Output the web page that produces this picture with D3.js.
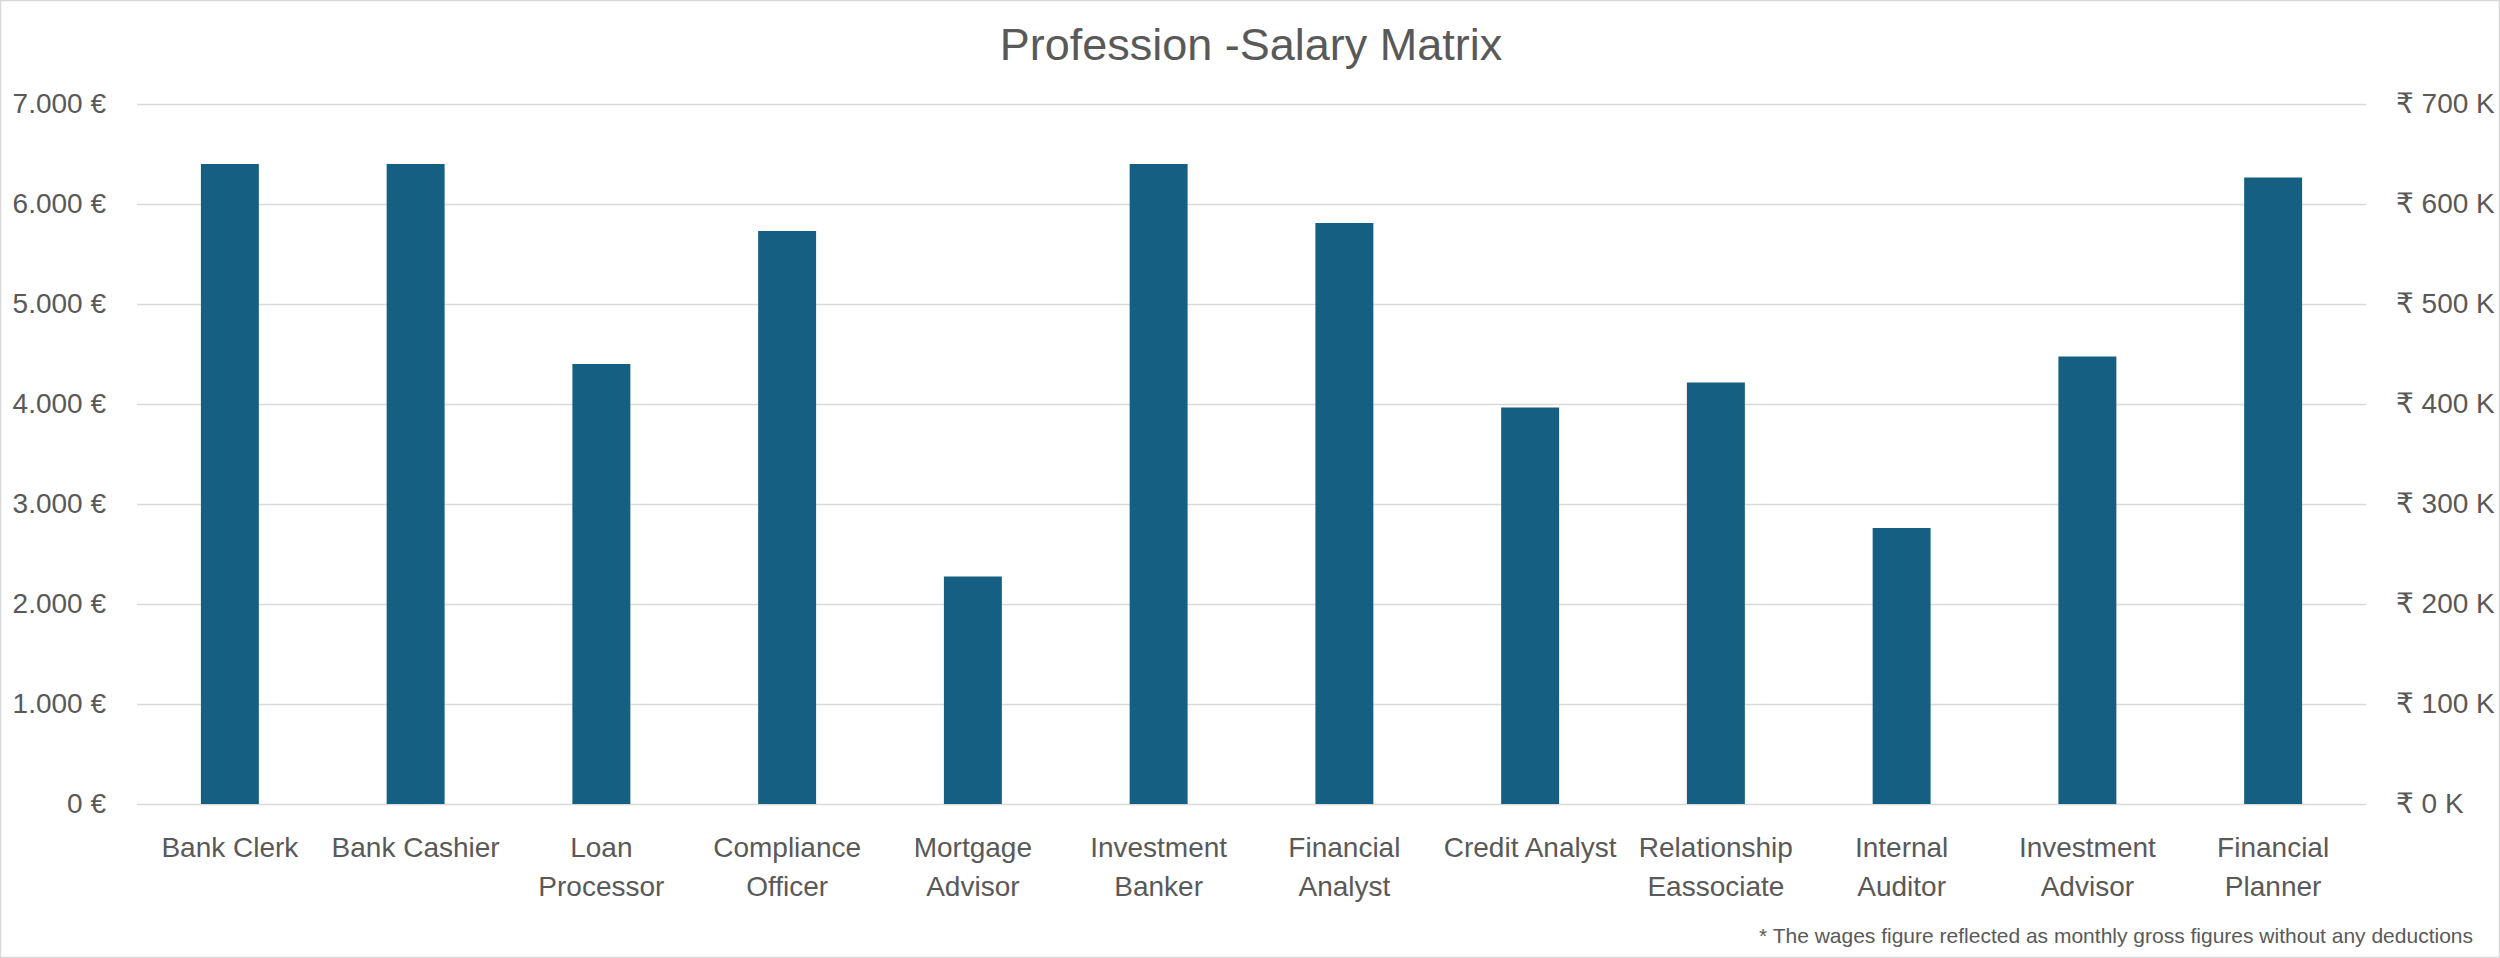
<!DOCTYPE html>
<html>
<head>
<meta charset="utf-8">
<script src="https://cdn.jsdelivr.net/npm/d3@7/dist/d3.min.js"></script>
<style>
  html, body { margin: 0; padding: 0; background: #fff; }
  svg { display: block; }
  text { font-family: "Liberation Sans", "DejaVu Sans", sans-serif; fill: #595959; }
</style>
</head>
<body>
<svg id="chart" width="2500" height="958"></svg>
<script>
const categories = ["Bank Clerk", "Bank Cashier", "Loan Processor", "Compliance Officer", "Mortgage Advisor",
  "Investment Banker", "Financial Analyst", "Credit Analyst", "Relationship Eassociate", "Internal Auditor",
  "Investment Advisor", "Financial Planner"];
const salaryEUR = [6400, 6400, 4400, 5730, 2275, 6400, 5810, 3965, 4215, 2760, 4475, 6265];
const leftTicks = [0, 1000, 2000, 3000, 4000, 5000, 6000, 7000];
const rightTicks = [0, 100000, 200000, 300000, 400000, 500000, 600000, 700000];
const title = "Profession -Salary Matrix";
const footnote = "* The wages figure reflected as monthly gross figures without any deductions";

const W = 2500, H = 958;
const plot = { left: 137, right: 2366, top: 104, bottom: 804 };
const svg = d3.select("#chart");

svg.append("rect").attr("x", 0.5).attr("y", 0.5).attr("width", W - 1).attr("height", H - 1)
  .attr("fill", "#fff").attr("stroke", "#d9d9d9").attr("stroke-width", 1.5);

const x = d3.scaleBand().domain(categories).range([plot.left, plot.right])
  .paddingInner(0.688).paddingOuter(0.344);
const y = d3.scaleLinear().domain([0, 7000]).range([plot.bottom, plot.top]);
const y2 = d3.scaleLinear().domain([0, 700000]).range([plot.bottom, plot.top]);

const loc = d3.formatLocale({ decimal: ",", thousands: ".", grouping: [3], currency: ["", " €"] });
const fmtL = v => loc.format(",")(v) + " €";
const fmtR = v => "₹ " + (v / 1000) + " K";

// gridlines
svg.append("g").selectAll("line").data(leftTicks).join("line")
  .attr("x1", plot.left).attr("x2", plot.right)
  .attr("y1", d => Math.round(y(d)) + 0.5).attr("y2", d => Math.round(y(d)) + 0.5)
  .attr("stroke", "#d9d9d9").attr("stroke-width", 1.5);

// left axis
const gL = svg.append("g").attr("transform", `translate(106,0)`)
  .call(d3.axisLeft(y).tickValues(leftTicks).tickFormat(fmtL).tickSize(0).tickPadding(0));
gL.select(".domain").remove();
gL.selectAll("text").style("font-size", "28px").attr("fill", "#595959");

// right axis
const gR = svg.append("g").attr("transform", `translate(2396,0)`)
  .call(d3.axisRight(y2).tickValues(rightTicks).tickFormat(fmtR).tickSize(0).tickPadding(0));
gR.select(".domain").remove();
gR.selectAll("text").style("font-size", "28px").attr("fill", "#595959");

// bars
svg.append("g").selectAll("rect").data(categories).join("rect")
  .attr("x", d => x(d)).attr("width", x.bandwidth())
  .attr("y", (d, i) => y(salaryEUR[i]))
  .attr("height", (d, i) => y(0) - y(salaryEUR[i]))
  .attr("fill", "#156082");

// x labels with wrapping
const gX = svg.append("g");
const step = x.step();
categories.forEach(c => {
  const cx = x(c) + x.bandwidth() / 2;
  const t = gX.append("text").attr("text-anchor", "middle").style("font-size", "28px");
  const words = c.split(" ");
  let lines = [], cur = [];
  const probe = gX.append("text").style("font-size", "28px");
  words.forEach(w => {
    const test = cur.concat([w]).join(" ");
    probe.text(test);
    if (cur.length && probe.node().getComputedTextLength() > step) {
      lines.push(cur.join(" ")); cur = [w];
    } else cur.push(w);
  });
  lines.push(cur.join(" "));
  probe.remove();
  lines.forEach((l, i) => {
    t.append("tspan").attr("x", cx).attr("y", 857 + i * 39).text(l);
  });
});

// title
svg.append("text").attr("x", 1251).attr("y", 60).attr("text-anchor", "middle")
  .style("font-size", "45px").text(title);

// footnote
svg.append("text").attr("x", 2473).attr("y", 943).attr("text-anchor", "end")
  .style("font-size", "21px").text(footnote);
</script>
</body>
</html>
